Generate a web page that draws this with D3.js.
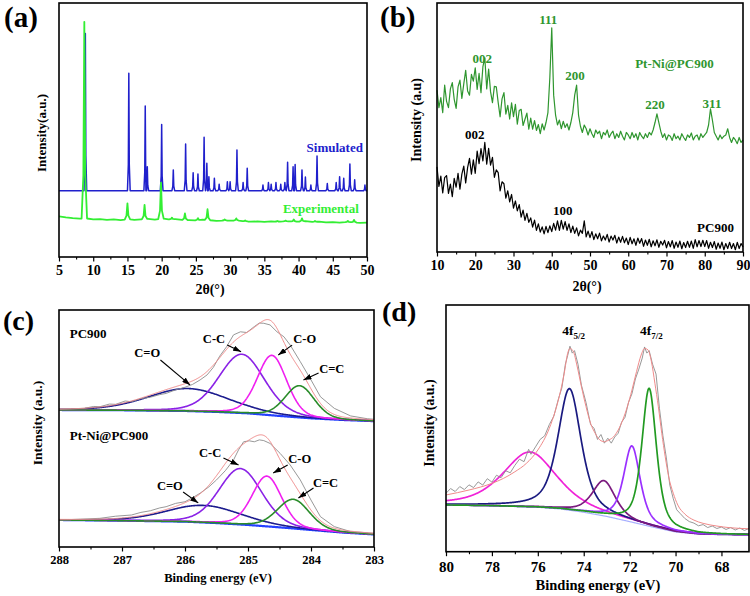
<!DOCTYPE html>
<html><head><meta charset="utf-8">
<script src="https://cdn.jsdelivr.net/npm/d3@7"></script>
<style>body{margin:0;background:#fff}</style>
</head><body><svg id="c" width="750" height="596"></svg>
<script>
// ================= DATA =================
// (a) XRD peak lists
const simPos = [8.85,15.2,17.6,17.9,20.0,21.7,23.5,24.6,25.3,26.2,26.6,26.9,27.7,28.4,29.6,30.0,31.0,31.9,32.5,34.8,35.6,36.0,36.7,37.4,38.0,38.4,39.2,39.5,40.5,41.0,41.8,42.7,44.2,45.5,46.0,46.6,47.5,48.2,49.7];
const simInt = [88,72.3,59.4,35.5,52.2,34.3,44.5,33.2,32.7,47.1,36.9,31.6,31,28.6,29.6,29.6,42.1,29.3,34.9,28.3,29.3,28.6,29.3,28.6,29.3,37.3,35.5,36.4,34.3,31.5,28.3,39.8,28.9,29.3,31.6,31,36.6,30.4,28.3];
const simBaseX = [5, 50];
const simBaseY = [26.1, 26.1];
const expBaseX = [5,6,7,8,9,10,11,12,13,14,15,16,17,18,19,20,21,22,23,24,25,26,27,28,29,30,31,32,33,34,35,36,37,38,39,40,41,42,43,44,45,46,47,48,49,50];
const expBaseY = [16.0,15.6,15.3,15.1,15.2,14.8,14.9,14.6,14.8,14.5,14.9,14.6,14.8,15.0,14.7,15.2,14.8,14.9,14.6,14.5,14.4,14.7,14.5,14.2,14.4,14.3,14.4,14.1,13.9,14.0,13.8,14.0,13.9,14.1,14.0,13.9,14.1,13.8,13.9,13.6,13.7,13.5,13.8,13.7,13.4,13.5];
const expPos = [8.7,15.0,17.5,19.9,21.5,23.4,25.3,26.7,29.2,30.9,32.2,36.9,38.1,39.3,40.5,42.4,47.2,48.1];
const expInt = [92.6,21.1,20.5,29.3,15.5,17.2,15.3,18.8,14.8,15.2,14.4,14.2,14.3,14.8,15.2,14.2,14.2,14.6];
const aTicks = [5,10,15,20,25,30,35,40,45,50];

// (b) XRD patterns, 2theta from 10 to 90 in 0.5 deg steps
const bStart = 10, bStep = 0.5;
const bGreen = [
 65,58,62,56,67,60.5,58,65.5,68,61.3,
 57.7,66.3,69,61.7,67.5,73,64.7,63,71.3,68.6,
 74,65.3,71.7,64,74.4,78,65.5,73.5,64.4,60,
 66.5,66.3,60,54.3,61.5,64,55.4,58.9,53.4,59.9,
 54.4,59.3,51.3,56.8,57.3,50.8,53.3,55.8,49.3,53.8,
 49.3,52.8,48.8,51.2,47.5,51.5,49,52,56,70,
 90,63,55,51,53,49.5,52.5,50,51.5,49,
 52,56,63,67,55,50.5,48,51,49.5,47,
 49.5,47.5,46,49,47.5,48.5,45.5,48,47,49,
 46,47.5,48.5,45.5,47.5,46,48.5,46.5,45,48,
 47,45.5,48,46,47.5,45,48,46.5,45.5,47.5,
 46,48,47,49,52,55.5,52,48.5,46,47.5,
 45,47,46.5,44.8,47.5,45.5,46.5,45,47.5,46,
 44.8,47,46,47.8,45,46.5,47,45,47.5,46,
 47,48,51,57.5,53,48,46.5,45,47,45.5,
 46.5,47,49.5,46,44,46,45,43.5,46,44,
 45];
const bBlack = [
 34.2,26.3,30.5,23.7,29.9,30.7,23.5,27.3,22.2,29.6,
 26,31.6,25.2,31.3,34.5,27.7,33.9,37.6,31.3,37,
 31.6,40.5,35.5,41.5,36.6,44,35.3,41.6,34.9,38,
 30,33,31.9,24.5,28.2,27.4,21.6,24.6,20.1,23.1,
 17.6,20.5,16.5,19,14,16.8,12.7,15.5,11.9,13.7,
 10,12.8,8.7,11.3,8,10.1,7.3,10.3,7.8,10.5,
 8.2,11.5,8.8,12.5,8.7,12.7,9.2,12.2,8.7,11.3,
 7.8,10.4,7.5,9.7,6.5,8.8,7.5,12.5,6.1,8.4,
 5.8,8.2,5,7.3,5.3,7.6,4.5,6.4,4.8,7.1,
 4,6.4,4.8,6.7,3.6,6,3.9,6.3,3.7,5.6,
 3,5.9,3.3,5.3,2.7,5.6,3.5,5.4,2.3,4.8,
 2.7,5.1,2.1,4.5,2.5,4.9,1.9,4.3,2.8,4.7,
 1.7,4.2,2.1,4.6,1.5,4,1.9,4.4,1.3,3.8,
 1.8,4.3,1.9,4.4,1.5,5,2.1,4.6,2.2,4.7,
 2.2,4.6,1.5,3.9,1.8,4.2,1.1,3.6,1.5,4,
 0.9,3.4,1.4,3.9,1.4,3.4,0.9,3.9,1.4,3.4,
 2];
const bTicks = [10,20,30,40,50,60,70,80,90];

// (c) C 1s XPS fits
const cBgX = [288,287,286,285.5,285,284.5,284,283.5,283];
const cTopBgY = [57.8,57.7,57.4,57.0,56.4,55.3,54.3,53.6,53.1];
const cBotBgY = [11.4,11.1,10.7,10.1,9.3,8.3,7.2,6.1,5.3];
const cNames = ["C=O","C-C","C-O","C=C"];
const cTopCenter = [285.95,285.1,284.62,284.18];
const cTopHeight = [9.5,24.8,25.3,13.4];
const cTopFwhm = [1.5,0.85,0.55,0.55];
const cBotCenter = [285.7,285.12,284.7,284.28];
const cBotHeight = [7.2,23.6,21.2,12.3];
const cBotFwhm = [1.4,0.8,0.55,0.6];
const cTopRawX = [288,287.8,287.6,287.45,287.35,287.2,287.1,286.95,286.85,286.7,286.55,286.4,286.3,286.15,286.0,285.88,285.76,285.65,285.55,285.45,285.34,285.23,285.12,285.02,284.9,284.82,284.75,284.65,284.54,284.43,284.33,284.17,284.0,283.85,283.63,283.37,283.1,283];
const cTopRawY = [58.1,58.3,58.5,59.3,59.2,60.3,60.2,61.6,61.3,62.6,63.2,64.3,64.8,66.3,67.4,68.6,70.5,72.6,75.8,80.5,84.5,89.5,90.8,90.5,93,94.5,94.4,93.7,90.8,88.7,85.2,78.2,70.5,63.4,58.5,55.3,54.1,53.9];
const cBotRawX = [288,287.7,287.35,287.1,286.85,286.7,286.55,286.4,286.3,286.15,286.0,285.88,285.76,285.62,285.5,285.36,285.23,285.15,285.07,284.98,284.9,284.82,284.75,284.65,284.49,284.33,284.17,284.0,283.85,283.63,283.37,283];
const cBotRawY = [11.4,11.7,12.1,13.0,13.5,14.6,15.3,16.5,17.0,18.4,19.1,20.8,22.7,25.4,28.3,32.2,36.7,41.0,44.4,44.8,44.4,45.2,44.9,43.7,39.5,34.6,28.3,19.8,12.8,8.6,6.5,5.8];
// annotation positions (data units): label x,y ; arrow start x,y ; arrow end x,y
const cTopAnn = [[286.6,80.3,286.39,78.9,285.92,68.4],[285.54,86.1,285.33,85.2,285.11,82.4],[284.1,86.1,284.3,85.2,284.52,81.0],[283.67,73.5,283.88,73.4,284.12,70.5]];
const cBotAnn = [[286.24,24.1,286.03,23.2,285.79,18.6],[285.6,38.1,285.39,37.6,285.15,34.6],[284.18,35.4,284.37,34.6,284.6,31.2],[283.77,25.3,283.96,24.9,284.2,20.7]];
const cTicks = [288,287,286,285,284,283];

// (d) Pt 4f XPS fits
const dBgX = [80,78,76,75,74,73,72,71,70,69,68,66.8];
const dBgY = [18.9,18.6,18.0,17.3,16.0,14.3,12.2,10.0,8.0,7.1,6.9,6.8];
const dCenter = [76.35,74.62,73.12,71.9,71.15];
const dHeight = [22.3,49.3,14.3,30.9,55.9];
const dFwhm = [2.8,1.2,1.2,0.85,0.75];
const dEnvX = [80,79,78,77.5,77,76.5,76,75.5,75.25,75,74.85,74.7,74.6,74.45,74.3,74.1,73.9,73.7,73.5,73.3,73.1,72.9,72.7,72.5,72.3,72.1,71.9,71.7,71.5,71.35,71.2,71.05,70.9,70.75,70.6,70.45,70.3,70.1,69.9,69.6,69.2,68.8,68.2,67.6,66.8];
const dEnvY = [23.0,25.0,27.7,29.7,32.4,35.8,41.2,50.0,56.7,65.5,72.3,80.4,82.4,81.1,75.7,66.9,58.8,52.0,48.0,45.3,44.6,45.3,46.6,49.3,53.4,58.8,65.5,73.0,79.7,82.4,81.8,77.0,68.3,58.8,48.0,38.5,30.4,23.7,18.9,15.3,12.8,11.5,10.4,9.7,9.3];
const dRawX = [80,79.8,79.6,79.4,79.2,79.0,78.8,78.6,78.4,78.2,78.0,77.8,77.6,77.4,77.2,77.0,76.8,76.6,76.4,76.3,76.1,75.9,75.7,75.5,75.3,75.1,74.95,74.8,74.7,74.6,74.5,74.4,74.25,74.1,73.9,73.7,73.55,73.4,73.25,73.1,72.95,72.8,72.65,72.5,72.35,72.2,72.05,71.9,71.75,71.6,71.45,71.35,71.25,71.15,71.0,70.85,70.7,70.55,70.4,70.25,70.1,69.95,69.8,69.6,69.4,69.2,69.0,68.8,68.6,68.4,68.2,68.0,67.8,67.6,67.4,67.2,67.0,66.8];
const dRawY = [23.7,25.6,24.4,26.4,25.2,27.1,26.0,28.3,27.0,29.6,28.2,31.0,30.0,32.8,32.0,35.0,37.5,36.5,41.5,39.5,42.5,45.5,47.0,51.5,55.0,62.0,66.5,76.0,79.5,83.3,80.5,81.5,76.0,67.5,60.5,51.5,50.0,45.5,47.5,44.0,46.0,44.0,46.5,48.0,52.5,54.5,60.5,64.0,70.0,74.0,78.5,83.0,80.5,81.5,76.0,72.0,58.0,47.0,38.0,27.0,21.5,17.0,15.5,13.5,12.2,11.6,10.5,11.0,9.8,10.4,9.4,10.0,9.0,9.8,8.8,9.6,8.6,9.4];
const dTicks = [80,78,76,74,72,70,68];

// ================= DRAWING =================
const FONT = "'Liberation Serif','Times New Roman',serif";
const svg = d3.select("#c");
svg.append("rect").attr("width",750).attr("height",596).attr("fill","#fff");
const defs = svg.append("defs");
defs.append("marker").attr("id","arr").attr("viewBox","0 0 10 7").attr("refX",10).attr("refY",3.5)
  .attr("markerWidth",8).attr("markerHeight",5.6).attr("markerUnits","userSpaceOnUse").attr("orient","auto")
  .append("path").attr("d","M0,0L10,3.5L0,7Z").attr("fill","#000");

function text(x,y,s,size,opt={}) {
  const t = svg.append("text").attr("x",x).attr("y",y).text(s)
    .attr("font-family",FONT).attr("font-weight","bold").attr("font-size",size)
    .attr("fill",opt.fill||"#000").attr("text-anchor",opt.anchor||"start");
  if (opt.rot) t.attr("transform",`rotate(-90,${x},${y})`);
  return t;
}
function frame(x,y) {
  svg.append("rect").attr("x",x.range()[0]).attr("y",y.range()[1])
    .attr("width",x.range()[1]-x.range()[0]).attr("height",y.range()[0]-y.range()[1])
    .attr("fill","none").attr("stroke","#000").attr("stroke-width",1.6);
}
function axis(x,y,major,minor,fs,pad) {
  const y0 = y.range()[0];
  svg.append("g").attr("transform",`translate(0,${y0})`)
    .call(d3.axisBottom(x).tickValues(minor).tickSize(2.5).tickFormat(""))
    .call(s=>{s.select(".domain").remove();s.selectAll("line").attr("stroke-width",1.1);});
  svg.append("g").attr("transform",`translate(0,${y0})`)
    .call(d3.axisBottom(x).tickValues(major).tickSize(4.5).tickPadding(pad).tickFormat(d3.format("d")))
    .call(s=>{s.select(".domain").remove();s.selectAll("line").attr("stroke-width",1.2);
      s.selectAll("text").attr("font-family",FONT).attr("font-weight","bold").attr("font-size",fs).attr("fill","#000");});
}
function peakLine(bx,by,pos,hgt,hw){
  const bs = d3.scaleLinear().domain(bx).range(by);
  let pts = bx.map((x,i)=>[x,by[i]]).filter(p=>!pos.some(c=>Math.abs(p[0]-c)<hw));
  pos.forEach((c,i)=>{const h=hgt[i], bc=bs(c);
    pts.push([c-hw,bs(c-hw)],[c-hw*0.35,bc+(h-bc)*0.22],[c,h],[c+hw*0.35,bc+(h-bc)*0.22],[c+hw,bs(c+hw)]);});
  return pts.sort((a,b)=>a[0]-b[0]);
}
function pv(x,c,h,w,eta){const r=(x-c)/w;return h*(eta/(1+4*r*r)+(1-eta)*Math.exp(-4*Math.LN2*r*r));}
function path(pts,x,y,color,width,curve){
  svg.append("path").attr("d",d3.line().x(d=>x(d[0])).y(d=>y(d[1])).curve(curve||d3.curveLinear)(pts))
    .attr("fill","none").attr("stroke",color).attr("stroke-width",width).attr("stroke-linejoin","round");
}

// ---------- (a) ----------
const xA = d3.scaleLinear().domain([5,50]).range([59,367]);
const yA = d3.scaleLinear().domain([0,100]).range([257,3]);
path(peakLine(simBaseX,simBaseY,simPos,simInt,0.2),xA,yA,"#2020cc",1.5);
path(peakLine(expBaseX,expBaseY,expPos,expInt,0.4),xA,yA,"#33ee33",1.8);
frame(xA,yA);
axis(xA,yA,aTicks,d3.range(7.5,50,5),14,4);
text(xA(49.4),yA(41.3),"Simulated",13,{fill:"#2020cc",anchor:"end"});
text(xA(48.8),yA(17.3),"Experimental",13,{fill:"#33ee33",anchor:"end"});
text(210,294,"2θ(°)",14,{anchor:"middle"});
text(46,133,"Intensity(a.u.)",13,{anchor:"middle",rot:true});
text(4,27,"(a)",29);

// ---------- (b) ----------
const xB = d3.scaleLinear().domain([10,90]).range([437,743]);
const yB = d3.scaleLinear().domain([0,100]).range([252,3]);
path(bBlack.map((v,i)=>[bStart+i*bStep,v]),xB,yB,"#000",1.2);
path(bGreen.map((v,i)=>[bStart+i*bStep,v]),xB,yB,"#2f962f",1.2);
frame(xB,yB);
axis(xB,yB,bTicks,d3.range(15,90,10),14,4);
const gB = "#2f962f";
text(xB(39.1),yB(91.6),"111",13,{fill:gB,anchor:"middle"});
text(xB(21.8),yB(75.9),"002",13,{fill:gB,anchor:"middle"});
text(xB(46.1),yB(69.1),"200",13,{fill:gB,anchor:"middle"});
text(xB(67.0),yB(57.4),"220",13,{fill:gB,anchor:"middle"});
text(xB(81.9),yB(57.8),"311",13,{fill:gB,anchor:"middle"});
text(xB(61.8),yB(73.9),"Pt-Ni@PC900",13,{fill:gB});
text(xB(19.9),yB(45.4),"002",13,{anchor:"middle"});
text(xB(42.9),yB(14.9),"100",13,{anchor:"middle"});
text(xB(78.0),yB(8.0),"PC900",13);
text(587,291,"2θ(°)",14,{anchor:"middle"});
text(421,120,"Intensity (a.u)",14,{anchor:"middle",rot:true});
text(380,27,"(b)",29);

// ---------- (c) ----------
const xC = d3.scaleLinear().domain([288,283]).range([59,374]);
const yC = d3.scaleLinear().domain([0,100]).range([547,310]);
const cColors = ["#1c1c8e","#8a22e6","#f020f0","#2a8c2a"];
const gridC = d3.range(283,288.0001,0.01);
const ETA_C = 0.2;
function xpsC(bgY,cen,hgt,fw,rawX,rawY){
  const bg = d3.scaleLinear().domain(cBgX).range(bgY);
  path(gridC.map(e=>[e,bg(e)]),xC,yC,"#2440ff",2.2);
  cen.forEach((c,i)=>path(gridC.map(e=>[e,bg(e)+pv(e,c,hgt[i],fw[i],ETA_C)]),xC,yC,cColors[i],1.6));
  path(rawX.map((x,i)=>[x,rawY[i]]),xC,yC,"#8c8c8c",0.9);
  path(gridC.map(e=>[e,bg(e)+d3.sum(cen,(c,i)=>pv(e,c,hgt[i],fw[i],ETA_C))]),xC,yC,"#f08a8a",1);
}
xpsC(cTopBgY,cTopCenter,cTopHeight,cTopFwhm,cTopRawX,cTopRawY);
xpsC(cBotBgY,cBotCenter,cBotHeight,cBotFwhm,cBotRawX,cBotRawY);
[cTopAnn,cBotAnn].forEach(ann=>ann.forEach((a,i)=>{
  text(xC(a[0]),yC(a[1]),cNames[i],12.5,{anchor:"middle"});
  svg.append("line").attr("x1",xC(a[2])).attr("y1",yC(a[3])).attr("x2",xC(a[4])).attr("y2",yC(a[5]))
    .attr("stroke","#000").attr("stroke-width",1.1).attr("marker-end","url(#arr)");
}));
text(xC(287.83),yC(88.2),"PC900",13);
text(xC(287.83),yC(45.1),"Pt-Ni@PC900",13);
frame(xC,yC);
axis(xC,yC,cTicks,d3.range(287.5,283,-1),12.5,4);
text(218,582,"Binding energy (eV)",12.5,{anchor:"middle"});
text(42,423,"Intensity (a.u.)",13.5,{anchor:"middle",rot:true});
text(3,330,"(c)",28);

// ---------- (d) ----------
const xD = d3.scaleLinear().domain([80,66.8]).range([446,749]);
const yD = d3.scaleLinear().domain([0,100]).range([551.7,305]);
const dColors = ["#f022d8","#1a1a80","#7a1a7e","#9a30ff","#229a22"];
const gridD = d3.range(66.8,80.0001,0.02);
const bgD = d3.scaleLinear().domain(dBgX).range(dBgY);
path(gridD.map(e=>[e,bgD(e)]),xD,yD,"#a8b0ff",1.2);
dCenter.forEach((c,i)=>path(gridD.map(e=>[e,bgD(e)+pv(e,c,dHeight[i],dFwhm[i],0.6)]),xD,yD,dColors[i],1.7));
path(dRawX.map((x,i)=>[x,dRawY[i]]),xD,yD,"#8c8c8c",0.9);
path(dEnvX.map((x,i)=>[x,dEnvY[i]]),xD,yD,"#f08a8a",1,d3.curveMonotoneX);
frame(xD,yD);
axis(xD,yD,dTicks,d3.range(79,67,-2),15,5);
function fLabel(e,v,sub){
  const t = text(xD(e),yD(v),"4f",13.5);
  t.append("tspan").attr("font-size",9).attr("dy",3.5).text(sub);
}
fLabel(74.94,87.8,"5/2");
fLabel(71.55,87.8,"7/2");
text(598,590,"Binding energy (eV)",14.5,{anchor:"middle"});
text(434,423,"Intensity (a.u.)",14,{anchor:"middle",rot:true});
text(382,321,"(d)",28);
</script></body></html>
